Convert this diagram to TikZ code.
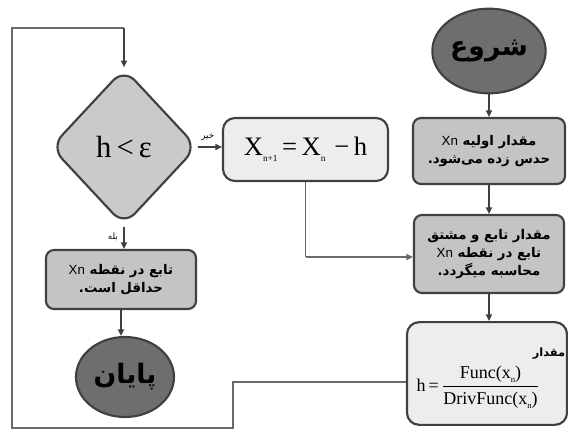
\documentclass[tikz,border=0pt]{standalone}
\usepackage{fontspec}
\usetikzlibrary{shapes.geometric,arrows.meta}
\TeXXeTstate=1
\newfontfamily\fa[Script=Arabic]{DejaVu Sans}
\newfontfamily\lat{Liberation Sans}
\newfontfamily\tms{Liberation Serif}
\newcommand{\Rtl}[1]{\beginR #1\endR}
\newcommand{\Xn}{\beginL{\lat\mdseries Xn}\endL}
\newcommand{\sbs}[2]{\raisebox{-0.5ex}{\fontsize{#1}{#1}\selectfont #2}}
\definecolor{bord}{HTML}{404040}
\definecolor{darkfill}{HTML}{6E6E6E}
\definecolor{midfill}{HTML}{C4C4C4}
\definecolor{diafill}{HTML}{CACACA}
\definecolor{lightfill}{HTML}{EDEDED}
\definecolor{linegray}{HTML}{6A6A6A}
\begin{document}
\begin{tikzpicture}[x=0.75pt,y=-0.75pt,
  base/.style={draw=bord, line width=1.6pt},
  terminal/.style={base, ellipse, fill=darkfill, inner sep=0pt},
  graybox/.style={base, rectangle, rounded corners=6pt, fill=midfill, inner sep=2pt, align=center},
  lightbox/.style={base, rectangle, rounded corners=9pt, fill=lightfill, inner sep=2pt},
  decide/.style={base, diamond, rounded corners=12pt, fill=diafill, inner sep=0pt},
  arr/.style={draw=bord, line width=1.2pt, -{Triangle[length=5pt,width=4.5pt]}},
  loopline/.style={draw=linegray, line width=1.2pt},
  fatext/.style={font=\fa\bfseries\fontsize{10}{13.5}\selectfont},
  lbl/.style={font=\fa\fontsize{6.5}{7}\selectfont, inner sep=1pt}
]
\useasboundingbox (0,0) rectangle (568,439);

% right column
\node[terminal, minimum width=85pt, minimum height=63.5pt] (start) at (489,51)
  {\fa\bfseries\fontsize{20}{24}\selectfont\Rtl{شروع}};
\node[graybox, fatext, minimum width=114pt, minimum height=49.5pt] (box1) at (489,151)
  {\Rtl{مقدار اولیه \Xn}\\ \Rtl{حدس زده می‌شود.}};
\node[graybox, fatext, minimum width=112.5pt, minimum height=58.5pt] (box2) at (489,254)
  {\Rtl{مقدار تابع و مشتق}\\ \Rtl{تابع در نقطه \Xn}\\ \Rtl{محاسبه میگردد.}};
\node[lightbox, minimum width=120pt, minimum height=77pt] (hbox) at (487,373.5) {};
\node[inner sep=0pt] (hform) at (478,387)
  {\tms\fontsize{13.5}{16}\selectfont h\,=\,$\displaystyle\frac{\hbox{\tms\fontsize{13.5}{16}\selectfont Func(x\sbs{6.5}{n})}}{\hbox{\tms\fontsize{13.5}{16}\selectfont DrivFunc(x\sbs{6.5}{n})}}$};
\node[inner sep=0pt, font=\fa\bfseries\fontsize{8.5}{10}\selectfont] (hlbl) at (549,354) {\Rtl{مقدار}};

% middle
\node[lightbox, minimum width=123.75pt, minimum height=47.25pt] (xbox) at (305.5,149.5)
  {\tms\fontsize{20}{23}\selectfont X\sbs{7}{n+1}\,=\,X\sbs{7}{n}\,\,−\,h};

% left column
\node[decide, minimum width=110pt, minimum height=118pt] (dia) at (124,147)
  {\tms\fontsize{23}{26}\selectfont h\,<\,ε};
\node[graybox, fatext, minimum width=112.5pt, minimum height=44.25pt] (endbox) at (121,279.5)
  {\Rtl{تابع در نقطه \Xn}\\ \Rtl{حداقل است.}};
\node[terminal, minimum width=73.5pt, minimum height=60pt] (stop) at (125,377)
  {\fa\bfseries\fontsize{20}{24}\selectfont\Rtl{پایان}};

% coordinates for routed lines
\coordinate (c1) at (233,382);
\coordinate (c2) at (233,428);
\coordinate (c3) at (12,428);
\coordinate (c4) at (12,28);
\coordinate (c6) at (305.5,257);

% connectors
\draw[arr] (start.south -| box1.north) -- (box1.north);
\draw[arr] (box1.south) -- (box1.south |- box2.north);
\draw[arr] (box2.south) -- (box2.south |- hbox.north);
\draw[loopline] (hbox.west |- c1) -- (c1) -- (c2) -- (c3) -- (c4) -- (dia.north |- c4);
\draw[arr] (dia.north |- c4) -- (dia.north);
\draw[arr] (dia.east) -- (dia.east -| xbox.west) node[lbl, pos=0.4, above=3pt] (no) {\Rtl{خیر}};
\draw[loopline] (xbox.south) -- (c6);
\draw[arr, draw=linegray] (c6) -- (c6 -| box2.west);
\draw[arr] (dia.south) -- (dia.south |- endbox.north) node[lbl, pos=0.45, left=3pt] (yes) {\Rtl{بله}};
\draw[arr] (endbox.south) -- (endbox.south |- stop.north);
\end{tikzpicture}
\end{document}
